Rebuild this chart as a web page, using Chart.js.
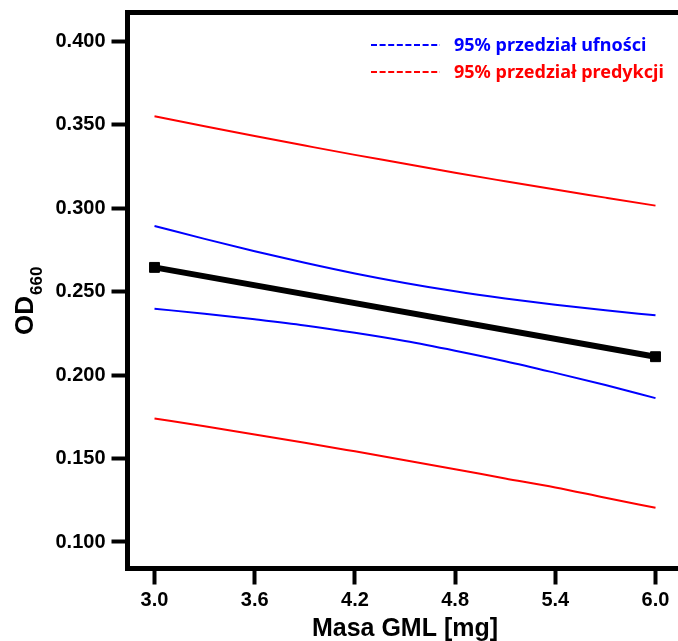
<!DOCTYPE html>
<html>
<head>
<meta charset="utf-8">
<script src="https://cdn.jsdelivr.net/npm/chart.js@4"></script>
<style>
	html, body { margin: 0; padding: 0; background: #fff; overflow: hidden; }
	#wrap { width: 678px; height: 641px; }
</style>
</head>
<body>
<div id="wrap"><canvas id="chart"></canvas></div>
<script>
// Fitted line (end points)
const fitX = [3.0, 6.0];
const fitY = [0.2645, 0.2110];

// Band curves sampled along the mass axis
const bandX = [3.0, 3.3, 3.6, 3.9, 4.2, 4.5, 4.8, 5.1, 5.4, 5.7, 6.0];
const confUpper = [0.2893, 0.2816, 0.2742, 0.2673, 0.2609, 0.2552, 0.2502, 0.2459, 0.2421, 0.2388, 0.2358];
const confLower = [0.2397, 0.2368, 0.2334, 0.2297, 0.2253, 0.2204, 0.2146, 0.2083, 0.2013, 0.1940, 0.1862];
const predUpper = [0.3550, 0.3491, 0.3432, 0.3375, 0.3319, 0.3266, 0.3212, 0.3161, 0.3111, 0.3063, 0.3015];
const predLower = [0.1740, 0.1693, 0.1644, 0.1595, 0.1543, 0.1490, 0.1436, 0.1381, 0.1327, 0.1265, 0.1205];

const xTicks = [3.0, 3.6, 4.2, 4.8, 5.4, 6.0];
const yTicks = [0.100, 0.150, 0.200, 0.250, 0.300, 0.350, 0.400];

const legendItems = ['95% przedział ufności', '95% przedział predykcji'];

const toPoints = (xs, ys) => xs.map((x, i) => ({ x: x, y: ys[i] }));

const BLUE = '#0000ff';
const RED = '#ff0000';
const AXIS_FONT = '"Liberation Sans", Arial, sans-serif';

// top frame line, axis titles and the dashed-line legend
const decorations = {
	id: 'decorations',
	afterDraw(chart) {
		const ctx = chart.ctx;
		const area = chart.chartArea;
		ctx.save();
		ctx.strokeStyle = '#000';
		ctx.lineWidth = 5;
		ctx.beginPath();
		ctx.moveTo(area.left - 2.5, area.top);
		ctx.lineTo(area.right, area.top);
		ctx.stroke();

		// x title
		ctx.fillStyle = '#000';
		ctx.font = 'bold 25px ' + AXIS_FONT;
		ctx.textAlign = 'center';
		ctx.textBaseline = 'alphabetic';
		ctx.fillText('Masa GML [mg]', 405, 636);

		// y title with subscript
		ctx.save();
		ctx.translate(33, 335);
		ctx.rotate(-Math.PI / 2);
		ctx.textAlign = 'left';
		ctx.font = 'bold 26px ' + AXIS_FONT;
		ctx.fillText('OD', 0, 0);
		const w = ctx.measureText('OD').width;
		ctx.font = 'bold 17px ' + AXIS_FONT;
		ctx.fillText('660', w + 1, 9);
		ctx.restore();

		// legend
		const rows = [
			{ text: legendItems[0], color: BLUE, y: 45 },
			{ text: legendItems[1], color: RED, y: 72 }
		];
		ctx.font = 'bold 18px "Noto Sans", sans-serif';
		ctx.textAlign = 'left';
		ctx.textBaseline = 'middle';
		rows.forEach((r) => {
			ctx.strokeStyle = r.color;
			ctx.lineWidth = 2;
			ctx.setLineDash([6, 2.6]);
			ctx.beginPath();
			ctx.moveTo(371, r.y);
			ctx.lineTo(440, r.y);
			ctx.stroke();
			ctx.setLineDash([]);
			ctx.fillStyle = r.color;
			ctx.fillText(r.text, 454, r.y + 1);
		});
		ctx.restore();
	}
};

// fixed axis box sizes so the plot area sits where it should
const fixBox = (size) => (scale) => {
	if (scale.isHorizontal()) scale.height = size; else scale.width = size;
	scale.paddingTop = 0;
	scale.paddingBottom = 0;
	scale.paddingLeft = 0;
	scale.paddingRight = 0;
};

window.onload = () => {
	const ctx = document.getElementById('chart').getContext('2d');
	const bandLine = (data, color) => ({
		data: data,
		borderColor: color,
		borderWidth: 2,
		pointRadius: 0,
		cubicInterpolationMode: 'monotone',
		fill: false
	});

	new Chart(ctx, {
		type: 'line',
		data: {
			datasets: [
				bandLine(toPoints(bandX, predUpper), RED),
				bandLine(toPoints(bandX, predLower), RED),
				bandLine(toPoints(bandX, confUpper), BLUE),
				bandLine(toPoints(bandX, confLower), BLUE),
				{
					data: toPoints(fitX, fitY),
					borderColor: '#000',
					backgroundColor: '#000',
					borderWidth: 6,
					pointStyle: 'rect',
					pointRadius: 7,
					pointBorderWidth: 1,
					fill: false
				}
			]
		},
		options: {
			responsive: true,
			maintainAspectRatio: false,
			animation: false,
			layout: { autoPadding: false, padding: { top: 12.5, left: 0, right: 0, bottom: 0 } },
			plugins: {
				legend: { display: false },
				tooltip: { enabled: false }
			},
			scales: {
				x: {
					type: 'linear',
					min: 2.8383,
					max: 6.1347,
					afterFit: fixBox(72.5),
					afterBuildTicks: (scale) => { scale.ticks = xTicks.map((v) => ({ value: v })); },
					border: { display: true, width: 5, color: '#000' },
					grid: { drawOnChartArea: false, drawTicks: true, tickLength: 16, tickWidth: 4, tickColor: '#000' },
					ticks: {
						color: '#000',
						padding: 4,
						maxRotation: 0,
						font: { family: AXIS_FONT, size: 20, weight: 'bold' },
						callback: (v) => Number(v).toFixed(1)
					}
				},
				y: {
					min: 0.08412,
					max: 0.4172,
					afterFit: fixBox(127.5),
					afterBuildTicks: (scale) => { scale.ticks = yTicks.map((v) => ({ value: v })); },
					border: { display: true, width: 5, color: '#000' },
					grid: { drawOnChartArea: false, drawTicks: true, tickLength: 16, tickWidth: 4, tickColor: '#000' },
					ticks: {
						color: '#000',
						padding: 6,
						font: { family: AXIS_FONT, size: 20, weight: 'bold' },
						callback: (v) => Number(v).toFixed(3)
					}
				}
			}
		},
		plugins: [decorations]
	});
};
</script>
</body>
</html>
